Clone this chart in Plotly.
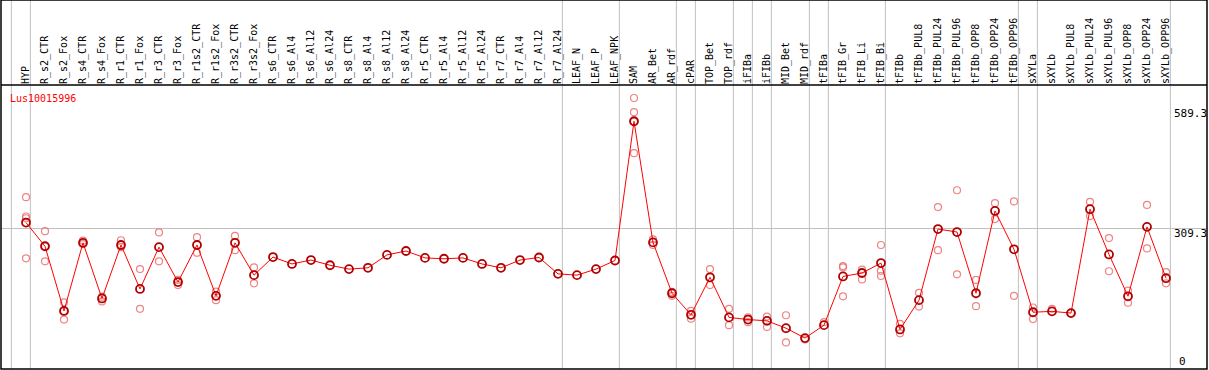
import plotly.graph_objects as go

categories = ["HYP", "R_s2_CTR", "R_s2_Fox", "R_s4_CTR", "R_s4_Fox", "R_r1_CTR", "R_r1_Fox",
              "R_r3_CTR", "R_r3_Fox", "R_r1s2_CTR", "R_r1s2_Fox", "R_r3s2_CTR", "R_r3s2_Fox",
              "R_s6_CTR", "R_s6_Al4", "R_s6_Al12", "R_s6_Al24", "R_s8_CTR", "R_s8_Al4",
              "R_s8_Al12", "R_s8_Al24", "R_r5_CTR", "R_r5_Al4", "R_r5_Al12", "R_r5_Al24",
              "R_r7_CTR", "R_r7_Al4", "R_r7_Al12", "R_r7_Al24", "LEAF_N", "LEAF_P", "LEAF_NPK",
              "SAM", "AR_Bet", "AR_rdf", "cPAR", "TOP_Bet", "TOP_rdf", "iFIBa", "iFIBb",
              "MID_Bet", "MID_rdf", "tFIBa", "tFIB_Gr", "tFIB_Li", "tFIB_Bi", "tFIBb",
              "tFIBb_PUL8", "tFIBb_PUL24", "tFIBb_PUL96", "tFIBb_OPP8", "tFIBb_OPP24",
              "tFIBb_OPP96", "sXYLa", "sXYLb", "sXYLb_PUL8", "sXYLb_PUL24", "sXYLb_PUL96",
              "sXYLb_OPP8", "sXYLb_OPP24", "sXYLb_OPP96"]

means = [323, 268, 118, 276, 147, 271, 169, 266, 185, 271, 153, 276, 201,
         243, 227, 236, 224, 215, 218, 248, 257, 241, 239, 241, 227,
         218, 236, 242, 204, 201, 215, 235,
         558, 277, 159, 109, 196, 103, 98, 95, 78, 55, 85,
         198, 206, 229, 75, 143, 308, 301, 159, 350, 261,
         115, 117, 113, 354, 249, 152, 313, 194]

replicates = [[382, 337, 333, 240], [303, 268, 233], [138, 118, 98], [281, 273], [151, 140],
              [282, 266], [215, 123], [300, 233], [190, 178], [289, 253], [163, 143],
              [292, 259], [219, 182],
              [], [], [], [], [], [], [], [], [], [], [], [], [], [], [], [], [], [], [],
              [612, 579, 557, 484], [284, 271], [162, 153], [118, 100], [215, 178],
              [123, 85], [103, 92], [105, 81], [108, 45], [52], [92],
              [222, 219, 152], [214, 191], [271, 211, 199], [88, 66], [160, 128],
              [359, 259], [398, 203], [190, 129], [368, 331], [372, 153],
              [126, 99], [123], [113], [371, 338], [287, 210], [165, 137], [364, 263],
              [208, 182]]

y_ticks = [0, 309.3, 589.3]
y_tick_text = ["0", "309.3", "589.3"]
group_ends = [-1, 0, 28, 31, 34, 35, 37, 38, 39, 41, 42, 45, 52, 53, 60]
title_text = "Lus10015996"

W, H = 1209, 370
ML, MR, MT, MB = 1, 2, 85, 1
plot_h = H - MT - MB
x_range = [-1.316, 62.158]
y_range = [-16.7, 642.1]
top_paper = (H - MB) / plot_h

rep_x, rep_y = [], []
for cat, vals in zip(categories, replicates):
    for v in vals:
        rep_x.append(cat)
        rep_y.append(v)

fig = go.Figure()
fig.add_trace(go.Scatter(
    x=rep_x, y=rep_y, mode="markers",
    marker=dict(symbol="circle-open", size=7, color="rgba(235,110,110,0.85)",
                line=dict(width=1.2, color="rgba(235,110,110,0.85)")),
    hoverinfo="skip", showlegend=False))
fig.add_trace(go.Scatter(
    x=categories, y=means, mode="lines+markers",
    line=dict(color="#ff0000", width=1),
    marker=dict(symbol="circle-open", size=8, color="#b00000",
                line=dict(width=1.8, color="#b00000")),
    showlegend=False))

shapes = []
span = x_range[1] - x_range[0]
for g in group_ends:
    xp = (g + 0.23 - x_range[0]) / span
    shapes.append(dict(type="line", xref="paper", yref="paper", x0=xp, x1=xp,
                       y0=0, y1=top_paper, line=dict(color="#c0c0c0", width=1),
                       layer="below"))
shapes.append(dict(type="line", xref="paper", yref="y", x0=0, x1=1,
                   y0=y_ticks[1], y1=y_ticks[1], line=dict(color="#c0c0c0", width=1),
                   layer="below"))
shapes.append(dict(type="rect", xref="paper", yref="paper", x0=0, x1=1, y0=0, y1=top_paper,
                   line=dict(color="black", width=1.5)))
shapes.append(dict(type="line", xref="paper", yref="paper", x0=0, x1=1, y0=1, y1=1,
                   line=dict(color="black", width=1.5)))

annotations = [dict(text=title_text, xref="paper", yref="paper",
                    x=7 / (W - ML - MR), y=(H - MB - 91) / plot_h,
                    xanchor="left", yanchor="top", showarrow=False,
                    font=dict(family="DejaVu Sans Mono", size=10, color="#ff0000"))]
for v, t in zip(y_ticks, y_tick_text):
    if v > 0:
        annotations.append(dict(text=t, xref="paper", yref="y", x=1, y=v,
                                xanchor="right", yanchor="top", yshift=3, xshift=2,
                                showarrow=False,
                                font=dict(family="DejaVu Sans Mono", size=11, color="black")))
    else:
        annotations.append(dict(text=t, xref="paper", yref="y", x=1, y=v,
                                xanchor="right", yanchor="middle", xshift=-19,
                                showarrow=False,
                                font=dict(family="DejaVu Sans Mono", size=11, color="black")))

fig.update_layout(
    width=W, height=H,
    margin=dict(l=ML, r=MR, t=MT, b=MB, pad=0),
    paper_bgcolor="white", plot_bgcolor="white",
    xaxis=dict(type="category", categoryorder="array", categoryarray=categories,
               range=x_range, side="top", tickangle=-90, ticks="", showgrid=False,
               zeroline=False, showline=False,
               tickfont=dict(family="DejaVu Sans Mono", size=10, color="black")),
    yaxis=dict(range=y_range, showgrid=False, zeroline=False, showticklabels=False,
               ticks="", showline=False),
    shapes=shapes, annotations=annotations,
)

fig.write_html("out.html", config={"displayModeBar": False},
               post_script="document.body.style.margin='0';document.body.style.overflow='hidden';")
